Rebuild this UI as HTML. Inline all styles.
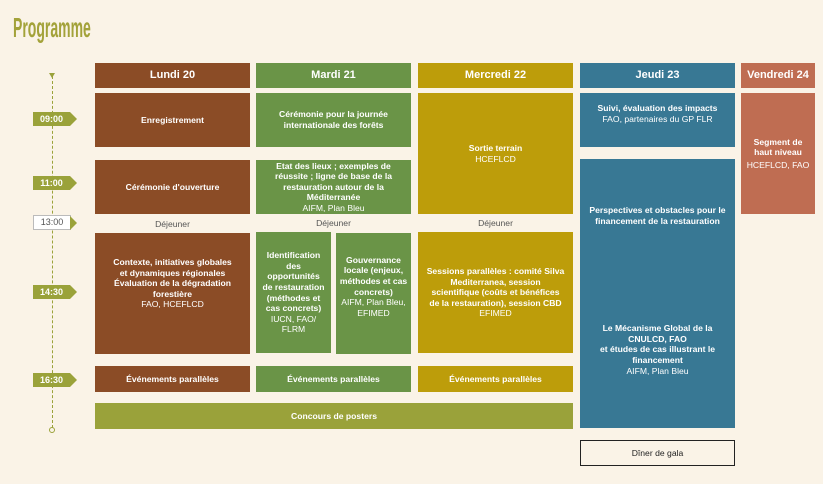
<!DOCTYPE html>
<html><head><meta charset="utf-8"><style>
body{margin:0;width:823px;height:484px;background:#faf3e7;position:relative;overflow:hidden;font-family:"Liberation Sans",sans-serif;}
.b{position:absolute;display:flex;align-items:center;justify-content:center;text-align:center;color:#fff;font-size:8.6px;line-height:10.6px;font-weight:bold;box-sizing:border-box;padding:0 4px;flex-direction:column}
.b span{font-weight:normal}
.h{font-size:11px;}
.br{background:#8b4c26}.gr{background:#6a9447}.mu{background:#bd9d0a}.bl{background:#387894}.ve{background:#bf6d52}.po{background:#9aa23a}
.dj{position:absolute;font-size:8.6px;color:#555;text-align:center;width:155px}
.t{position:absolute;left:33px;width:37px;height:14px;background:#9aa23a;color:#fff;font-size:9px;font-weight:bold;line-height:14px;text-align:center}
.t:after{content:"";position:absolute;right:-7px;top:0;border-left:7px solid #9aa23a;border-top:7px solid transparent;border-bottom:7px solid transparent}
</style></head><body>
<div style="position:absolute;left:13px;top:12px;font-family:'Liberation Sans',sans-serif;font-weight:bold;font-size:28px;color:#a3a23a;transform:scaleX(0.5);transform-origin:left top;white-space:nowrap">Programme</div>
<div style="position:absolute;left:51.5px;top:76px;height:352px;border-left:1.5px dashed #9aa23a"></div>
<div style="position:absolute;left:49px;top:73px;border-top:5px solid #9aa23a;border-left:3px solid transparent;border-right:3px solid transparent"></div>
<div style="position:absolute;left:49px;top:427px;width:4px;height:4px;border:1.3px solid #9aa23a;border-radius:50%;background:#faf3e7"></div>
<div class="t" style="top:112px">09:00</div>
<div class="t" style="top:176px">11:00</div>
<div class="t" style="top:215px;background:#fff;color:#555;font-weight:normal;border:1px solid #bbb;height:13px;line-height:13px;width:36px">13:00</div>
<div class="t" style="top:285px">14:30</div>
<div class="t" style="top:373px">16:30</div>

<div class="b br h" style="left:95px;top:63px;width:155px;height:25px">Lundi 20</div>
<div class="b gr h" style="left:256px;top:63px;width:155px;height:25px">Mardi 21</div>
<div class="b mu h" style="left:418px;top:63px;width:155px;height:25px">Mercredi 22</div>
<div class="b bl h" style="left:580px;top:63px;width:155px;height:25px">Jeudi 23</div>
<div class="b ve h" style="left:741px;top:63px;width:74px;height:25px">Vendredi 24</div>

<div class="b br" style="left:95px;top:93px;width:155px;height:54px">Enregistrement</div>
<div class="b gr" style="left:256px;top:93px;width:155px;height:54px">Cérémonie pour la journée internationale des forêts</div>
<div class="b mu" style="left:418px;top:93px;width:155px;height:121px">Sortie terrain<span>HCEFLCD</span></div>
<div class="b bl" style="left:580px;top:93px;width:155px;height:54px;padding-bottom:12px">Suivi, évaluation des impacts<span>FAO, partenaires du GP FLR</span></div>
<div class="b ve" style="left:741px;top:93px;width:74px;height:121px">Segment de haut niveau<span style="margin-top:2px">HCEFLCD, FAO</span></div>

<div class="b br" style="left:95px;top:160px;width:155px;height:54px">Cérémonie d'ouverture</div>
<div class="b gr" style="left:256px;top:160px;width:155px;height:54px;padding:0 12px">Etat des lieux ; exemples de réussite ; ligne de base de la restauration autour de la Méditerranée<span>AIFM, Plan Bleu</span></div>
<div class="b bl" style="left:580px;top:159px;width:155px;height:269px;justify-content:flex-start;padding-top:46px">Perspectives et obstacles pour le financement de la restauration<div style="height:97px"></div>Le Mécanisme Global de la CNULCD, FAO<br>et études de cas illustrant le financement<span>AIFM, Plan Bleu</span></div>

<div class="dj" style="left:95px;top:219px">Déjeuner</div>
<div class="dj" style="left:256px;top:218px">Déjeuner</div>
<div class="dj" style="left:418px;top:218px">Déjeuner</div>

<div class="b br" style="left:95px;top:233px;width:155px;height:121px;padding:0 18px 20px">Contexte, initiatives globales et dynamiques régionales Évaluation de la dégradation forestière<span>FAO, HCEFLCD</span></div>
<div class="b gr" style="left:256px;top:232px;width:75px;height:121px;padding:0 6px">Identification des opportunités de restauration (méthodes et cas concrets)<span>IUCN, FAO/ FLRM</span></div>
<div class="b gr" style="left:336px;top:233px;width:75px;height:121px;padding:0 3px 14px">Gouvernance locale (enjeux, méthodes et cas concrets)<span>AIFM, Plan Bleu, EFIMED</span></div>
<div class="b mu" style="left:418px;top:232px;width:155px;height:121px;padding:0 8px">Sessions parallèles : comité Silva Mediterranea, session scientifique (coûts et bénéfices de la restauration), session CBD<span>EFIMED</span></div>

<div class="b br" style="left:95px;top:366px;width:155px;height:26px">Événements parallèles</div>
<div class="b gr" style="left:256px;top:366px;width:155px;height:26px">Événements parallèles</div>
<div class="b mu" style="left:418px;top:366px;width:155px;height:26px">Événements parallèles</div>
<div class="b po" style="left:95px;top:403px;width:478px;height:26px">Concours de posters</div>
<div class="b" style="left:580px;top:440px;width:155px;height:26px;border:1.3px solid #222;color:#222;font-weight:normal;background:#faf3e7">Dîner de gala</div>
</body></html>
